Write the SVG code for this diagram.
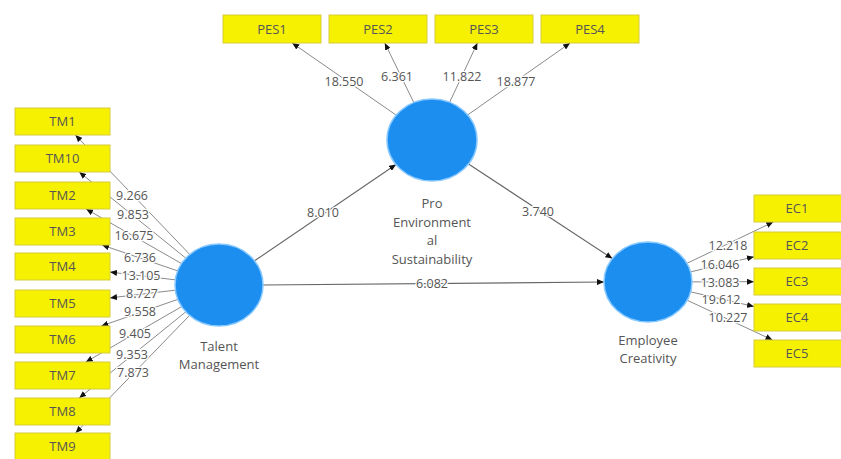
<svg xmlns="http://www.w3.org/2000/svg" width="841" height="459" viewBox="0 0 841 459">
<defs>
<marker id="ah" markerUnits="userSpaceOnUse" markerWidth="8" markerHeight="6" refX="7" refY="3" orient="auto">
<path d="M0,0 L7,3 L0,6 Z" fill="#111"/>
</marker>
<style>
.bg{fill:#ffffff}
.box{fill:#f6f100;stroke:#d6cc3a;stroke-width:1}
.lv{fill:#1b8ef0;stroke:#86c8ff;stroke-width:1.5}
.t{font-family:"Open Sans","Liberation Sans",sans-serif;font-size:13px;fill:#555;text-anchor:middle}
.n{font-family:"Open Sans","Liberation Sans",sans-serif;font-size:12.5px;fill:#555;text-anchor:middle;stroke:#fff;stroke-width:2.5;paint-order:stroke}
.ln{stroke:#8a8a8a;stroke-width:1;fill:none;marker-end:url(#ah)}
.sl{stroke:#666;stroke-width:1.1;fill:none;marker-end:url(#ah)}
</style>
</defs>
<rect class="bg" x="0" y="0" width="841" height="459"/>

<g id="connectors">
<line class="ln" x1="219" y1="285" x2="75.4" y2="135"/>
<line class="ln" x1="219" y1="285" x2="79.2" y2="172"/>
<line class="ln" x1="219" y1="285" x2="86.1" y2="209"/>
<line class="ln" x1="219" y1="285" x2="102" y2="245"/>
<line class="ln" x1="219" y1="285" x2="110" y2="272.1"/>
<line class="ln" x1="219" y1="285" x2="110" y2="297.9"/>
<line class="ln" x1="219" y1="285" x2="101.3" y2="326"/>
<line class="ln" x1="219" y1="285" x2="85.8" y2="362"/>
<line class="ln" x1="219" y1="285" x2="79.2" y2="398"/>
<line class="ln" x1="219" y1="285" x2="75.6" y2="433"/>

<line class="ln" x1="432" y1="140" x2="292.2" y2="43"/>
<line class="ln" x1="432" y1="140" x2="384.8" y2="43"/>
<line class="ln" x1="432" y1="140" x2="477.4" y2="43"/>
<line class="ln" x1="432" y1="140" x2="570.1" y2="43"/>

<line class="ln" x1="648" y1="282" x2="773.3" y2="222"/>
<line class="ln" x1="648" y1="282" x2="754" y2="256.8"/>
<line class="ln" x1="648" y1="282" x2="754" y2="281.7"/>
<line class="ln" x1="648" y1="282" x2="754" y2="306.5"/>
<line class="ln" x1="648" y1="282" x2="772.5" y2="340"/>

<line class="sl" x1="254.6" y1="260.8" x2="396" y2="164.5"/>
<line class="sl" x1="468.5" y1="164" x2="612.4" y2="258.6"/>
<line class="sl" x1="263" y1="285" x2="604" y2="282"/>

<text class="n" x="132" y="200">9.266</text>
<text class="n" x="133" y="219">9.853</text>
<text class="n" x="134" y="240">16.675</text>
<text class="n" x="140" y="262">6.736</text>
<text class="n" x="141" y="280">13.105</text>
<text class="n" x="142" y="298">8.727</text>
<text class="n" x="140" y="316">9.558</text>
<text class="n" x="135" y="338">9.405</text>
<text class="n" x="132" y="359">9.353</text>
<text class="n" x="133" y="377">7.873</text>

<text class="n" x="344" y="86">18.550</text>
<text class="n" x="397" y="81">6.361</text>
<text class="n" x="462" y="81">11.822</text>
<text class="n" x="516" y="86">18.877</text>

<text class="n" x="728" y="250">12.218</text>
<text class="n" x="720" y="269">16.046</text>
<text class="n" x="720" y="287">13.083</text>
<text class="n" x="721" y="304">19.612</text>
<text class="n" x="728" y="322">10.227</text>

<text class="n" x="323" y="217">8.010</text>
<text class="n" x="538" y="216">3.740</text>
<text class="n" x="432" y="288">6.082</text>
</g>

<g id="TM1"><rect class="box" x="15" y="108" width="95" height="27"/><text class="t" x="62.5" y="126">TM1</text></g>
<g id="TM10"><rect class="box" x="15" y="145" width="95" height="27"/><text class="t" x="62.5" y="163">TM10</text></g>
<g id="TM2"><rect class="box" x="15" y="182" width="95" height="27"/><text class="t" x="62.5" y="200">TM2</text></g>
<g id="TM3"><rect class="box" x="15" y="218" width="95" height="27"/><text class="t" x="62.5" y="236">TM3</text></g>
<g id="TM4"><rect class="box" x="15" y="253" width="95" height="27"/><text class="t" x="62.5" y="271">TM4</text></g>
<g id="TM5"><rect class="box" x="15" y="290" width="95" height="27"/><text class="t" x="62.5" y="308">TM5</text></g>
<g id="TM6"><rect class="box" x="15" y="326" width="95" height="27"/><text class="t" x="62.5" y="344">TM6</text></g>
<g id="TM7"><rect class="box" x="15" y="362" width="95" height="27"/><text class="t" x="62.5" y="380">TM7</text></g>
<g id="TM8"><rect class="box" x="15" y="398" width="95" height="27"/><text class="t" x="62.5" y="416">TM8</text></g>
<g id="TM9"><rect class="box" x="15" y="433" width="95" height="27"/><text class="t" x="62.5" y="451">TM9</text></g>

<g id="PES1"><rect class="box" x="223" y="15" width="98" height="28"/><text class="t" x="272" y="34">PES1</text></g>
<g id="PES2"><rect class="box" x="329" y="15" width="98" height="28"/><text class="t" x="378" y="34">PES2</text></g>
<g id="PES3"><rect class="box" x="435" y="15" width="98" height="28"/><text class="t" x="484" y="34">PES3</text></g>
<g id="PES4"><rect class="box" x="541" y="15" width="98" height="28"/><text class="t" x="590" y="34">PES4</text></g>

<g id="EC1"><rect class="box" x="754" y="195" width="95" height="27"/><text class="t" x="797" y="213">EC1</text></g>
<g id="EC2"><rect class="box" x="754" y="232" width="95" height="27"/><text class="t" x="797" y="250">EC2</text></g>
<g id="EC3"><rect class="box" x="754" y="268" width="95" height="27"/><text class="t" x="797" y="286">EC3</text></g>
<g id="EC4"><rect class="box" x="754" y="304" width="95" height="27"/><text class="t" x="797" y="322">EC4</text></g>
<g id="EC5"><rect class="box" x="754" y="340" width="95" height="27"/><text class="t" x="797" y="358">EC5</text></g>

<g id="TalentManagement">
<ellipse class="lv" cx="219" cy="285" rx="44" ry="41"/>
<text class="t" x="219" y="351">Talent</text>
<text class="t" x="219" y="369">Management</text>
</g>
<g id="ProEnvironmentalSustainability">
<ellipse class="lv" cx="432" cy="140" rx="45" ry="41"/>
<text class="t" x="432" y="208">Pro</text>
<text class="t" x="432" y="227">Environment</text>
<text class="t" x="432" y="245">al</text>
<text class="t" x="432" y="264">Sustainability</text>
</g>
<g id="EmployeeCreativity">
<ellipse class="lv" cx="648" cy="282" rx="44" ry="40"/>
<text class="t" x="648" y="345">Employee</text>
<text class="t" x="648" y="363">Creativity</text>
</g>
</svg>
